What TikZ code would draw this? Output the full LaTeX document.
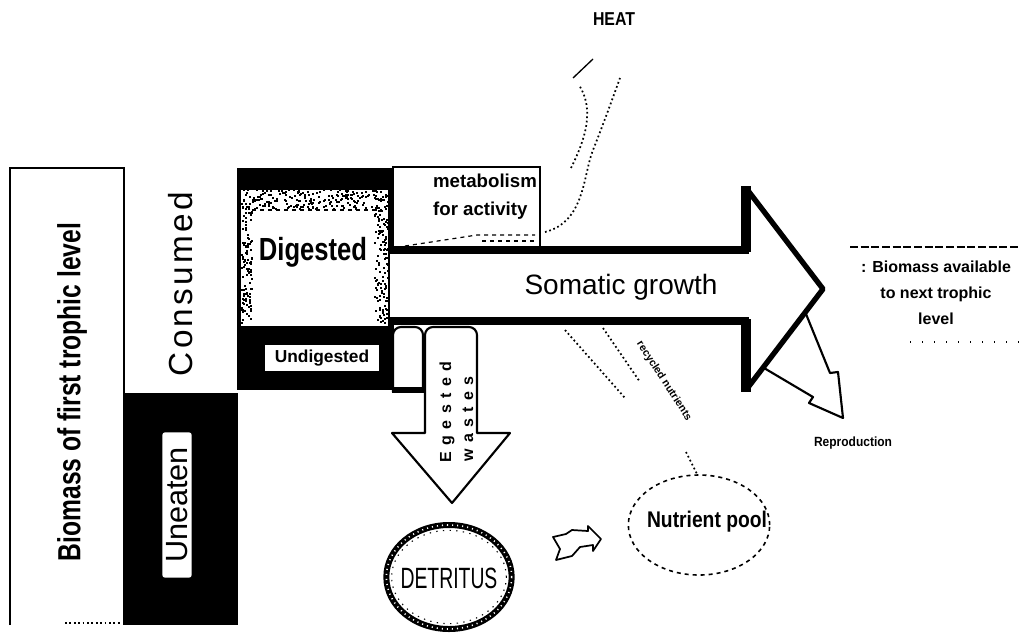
\documentclass[tikz,border=0pt]{standalone}
\usepackage{fontspec}
\setmainfont{Liberation Sans}
\newfontfamily\spacedfont[LetterSpace=10]{Liberation Sans}
\newfontfamily\widefont[LetterSpace=40]{Liberation Sans}
\begin{document}
\begin{tikzpicture}[x=0.75pt,y=-0.75pt,
  txt/.style={inner sep=0pt},
  edge/.style={line width=1.2pt},
  dotline/.style={dotted, line width=1.3pt}]
\useasboundingbox (0,0) rectangle (1019,632);
% left rectangle
\draw[edge] (10,625) -- (10,168) -- (124,168) -- (124,393);
\draw[dotline] (65,623) -- (122,623);
\node[txt, rotate=90] (biomass) at (72,392) {\bfseries\fontsize{24}{24}\selectfont\scalebox{0.77}[1]{Biomass of first trophic level}};
\node[txt, rotate=90] (consumed) at (181,284) {\fontsize{25}{25}\selectfont\spacedfont Consumed};
% uneaten
\fill (123,393) rectangle (238,625);
\node[txt, rotate=90, fill=white, rounded corners=2pt, minimum width=109pt, minimum height=22pt] (uneaten) at (177,505) {\fontsize{23}{23}\selectfont Uneaten};
% digested box
\fill (237,168) rectangle (394,390);
\fill[white] (241,186) rectangle (388,326);
\fill (241,186) rectangle (388,190);
\pgfmathsetseed{5}
\foreach \i in {1,...,260}{
  \pgfmathsetmacro{\xx}{241+147*rnd}
  \pgfmathsetmacro{\yy}{184+24*rnd}
  \fill (\xx,\yy) rectangle ++(2,2);
}
\foreach \i in {1,...,110}{
  \pgfmathsetmacro{\xx}{241+10*rnd}
  \pgfmathsetmacro{\yy}{205+118*rnd}
  \fill (\xx,\yy) rectangle ++(2,2);
}
\foreach \i in {1,...,130}{
  \pgfmathsetmacro{\xx}{374+14*rnd}
  \pgfmathsetmacro{\yy}{205+118*rnd}
  \fill (\xx,\yy) rectangle ++(2,2);
}
\draw[dashed, line width=0.8pt] (252,210) -- (382,210);
\node[txt] (digested) at (313,252) {\bfseries\fontsize{24}{24}\selectfont\scalebox{0.8}[1]{Digested}};
\node[txt, fill=white, minimum width=86pt, minimum height=20pt] (undigested) at (322,358) {\bfseries\fontsize{13}{13}\selectfont Undigested};
% metabolism box
\draw[edge] (392,167) -- (540,167) -- (540,250);
\node[txt, align=left, font=\bfseries\fontsize{14}{21}\selectfont] (metab) at (485,197) {metabolism\\for activity};
\draw[dashed, line width=0.9pt] (405,246) -- (477,235) -- (535,235);
\draw[dashed, line width=0.9pt] (482,241) -- (535,241);
% heat
\node[txt] (heat) at (614,19) {\bfseries\fontsize{14}{14}\selectfont\scalebox{0.85}[1]{HEAT}};
\coordinate (h1) at (573,78);
\coordinate (h2) at (593,59);
\draw[line width=1pt] (h1) -- (h2);
\draw[dotline] (545,232) .. controls (585,222) and (583,175) .. (593,150) .. controls (603,125) and (612,100) .. (620,78);
\draw[dotline] (571,168) .. controls (585,140) and (595,110) .. (579,85);
% reproduction arrow
\draw[line width=1.6pt, line join=round, fill=white] (764,368) -- (813,397) -- (809,403) -- (843,418) -- (838,372) -- (830,373) -- (806,314);
\node[txt] (repro) at (853,443) {\bfseries\fontsize{10}{10}\selectfont\scalebox{0.9}[1]{Reproduction}};
% somatic growth arrow
\fill[white] (390,250) -- (746,250) -- (746,188) -- (823,289) -- (746,390) -- (746,321) -- (390,321) -- cycle;
\draw[line width=4pt, line join=round] (746,188) -- (823,289) -- (746,390);
\draw[line width=6pt] (390,250) -- (749,250);
\draw[line width=6pt] (390,321) -- (749,321);
\draw[line width=7pt] (746,186) -- (746,252);
\draw[line width=7pt] (746,319) -- (746,392);
\node[txt] (somatic) at (621,287) {\fontsize{21}{21}\selectfont Somatic growth};
% biomass available
\node[txt, align=center, font=\bfseries\fontsize{12}{19.5}\selectfont] (avail) at (936,293) {: Biomass available\\to next trophic\\level};
\draw[dash pattern=on 6pt off 2pt, line width=1pt] (850,247) -- (1019,247);
\draw[dash pattern=on 1pt off 8pt, line width=1pt] (910,342) -- (1019,342);
% egested
\draw[line width=1.6pt, fill=white] (393,392) [rounded corners=6pt] -- (393,327) -- (423,327) [sharp corners] -- (423,392);
\draw[line width=4pt] (392,390) -- (424,390);
\draw[line width=1.6pt, fill=white, line join=round] (425,433) [rounded corners=6pt] -- (425,327) -- (477,327) -- (477,400) [sharp corners] -- (477,433) -- (510,433) -- (452,503) -- (392,433) -- cycle;
\node[txt, rotate=90] (egested) at (447,412) {\bfseries\fontsize{12}{12}\selectfont\widefont Egested};
\node[txt, rotate=90] (wastes) at (468,419) {\bfseries\fontsize{12}{12}\selectfont\widefont wastes};
% recycled nutrients
\draw[dotline] (565,330) -- (625,398);
\draw[dotline] (603,328) -- (640,382);
\node[txt, rotate=-57] (recyc) at (664,381) {\bfseries\fontsize{8}{8}\selectfont recycled nutrients};
\draw[dotline] (686,452) -- (697,474);
% detritus
\node[txt] (detritus) at (449,578) {\fontsize{22}{22}\selectfont\scalebox{0.66}[1]{DETRITUS}};
\draw[line width=4.5pt] (detritus.center) ++(0,-1) ellipse [x radius=47pt, y radius=39pt];
\draw[white, line width=1.2pt, dash pattern=on 0.8pt off 3pt] (detritus.center) ++(0,-1) ellipse [x radius=47pt, y radius=39pt];
\draw[line width=0.8pt, dash pattern=on 1pt off 4pt] (detritus.center) ++(0,-1) ellipse [x radius=43pt, y radius=35pt];
% small arrow
\draw[line width=1.3pt, line join=round] (553,537) -- (566,534) -- (572,530) -- (588,531) -- (588,526) -- (601,539) -- (593,551) -- (593,545) -- (580,547) -- (572,556) -- (556,560) -- (560,549) -- cycle;
% nutrient pool
\node[txt] (pool) at (707,522) {\bfseries\fontsize{17}{17}\selectfont\scalebox{0.85}[1]{Nutrient pool}};
\draw[dashed, line width=1.2pt] (699,525) ellipse [x radius=53pt, y radius=37.5pt];
\end{tikzpicture}
\end{document}
